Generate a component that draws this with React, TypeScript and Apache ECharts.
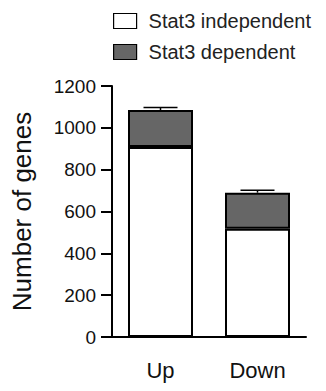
import React, { useEffect, useRef } from "react";
import * as echarts from "echarts";

const categories = ["Up", "Down"];
const independentValues = [908, 518];
const dependentValues = [177, 172];
const errorValues = [12, 11];
const yTicks = { min: 0, max: 1200, interval: 200 };
const seriesNames = ["Stat3 independent", "Stat3 dependent"];
const yAxisTitle = "Number of genes";

const FONT = "'Liberation Sans', Arial, Helvetica, sans-serif";

export default function App() {
  const ref = useRef<HTMLDivElement>(null);
  useEffect(() => {
    if (!ref.current) return;
    const chart = echarts.init(ref.current, null, { renderer: "svg" });
    const totals = independentValues.map((v, i) => v + dependentValues[i]);
    const errData = categories.map((c, i) => [i, totals[i], errorValues[i]]);
    chart.setOption({
      animation: false,
      backgroundColor: "#ffffff",
      textStyle: { fontFamily: FONT },
      grid: { left: 112, top: 86, right: 20, bottom: 54, containLabel: false },
      legend: {
        data: seriesNames,
        orient: "vertical",
        left: 113,
        top: 11,
        padding: 0,
        icon: "rect",
        itemWidth: 23,
        itemHeight: 15,
        itemGap: 11,
        itemStyle: { borderWidth: 1.2, borderColor: "#000" },
        textStyle: { fontSize: 20, color: "#222", fontFamily: FONT, padding: [0, 0, 0, 7] },
        selectedMode: false,
      },
      xAxis: {
        type: "category",
        data: categories,
        axisLine: { lineStyle: { color: "#000", width: 2 } },
        axisTick: { alignWithLabel: true, length: 10, lineStyle: { color: "#000", width: 2 } },
        axisLabel: { fontSize: 22, color: "#111", margin: 22, fontFamily: FONT },
      },
      yAxis: {
        type: "value",
        min: yTicks.min,
        max: yTicks.max,
        interval: yTicks.interval,
        name: yAxisTitle,
        nameLocation: "middle",
        nameRotate: 90,
        nameGap: 77,
        nameTextStyle: { fontSize: 26, color: "#111", fontFamily: FONT },
        axisLine: { show: true, lineStyle: { color: "#000", width: 2 } },
        axisTick: { show: true, length: 11, lineStyle: { color: "#000", width: 2 } },
        axisLabel: {
          fontSize: 19,
          color: "#111",
          margin: 16,
          fontFamily: FONT,
          formatter: (v: number) => String(v),
        },
        splitLine: { show: false },
      },
      series: [
        {
          name: seriesNames[0],
          type: "bar",
          stack: "total",
          barWidth: 65,
          data: independentValues,
          itemStyle: { color: "#ffffff", borderColor: "#000", borderWidth: 2 },
        },
        {
          name: seriesNames[1],
          type: "bar",
          stack: "total",
          barWidth: 65,
          data: dependentValues,
          itemStyle: { color: "#666666", borderColor: "#000", borderWidth: 2 },
        },
        {
          type: "custom",
          name: "err",
          data: errData,
          encode: { x: 0, y: 1 },
          z: 10,
          renderItem: (params: any, api: any) => {
            const i = api.value(0);
            const base = api.coord([i, api.value(1)]);
            const top = api.coord([i, api.value(1) + api.value(2)]);
            const half = 17;
            return {
              type: "group",
              children: [
                {
                  type: "line",
                  shape: { x1: base[0], y1: base[1], x2: top[0], y2: top[1] },
                  style: { stroke: "#000", lineWidth: 1.5 },
                },
                {
                  type: "line",
                  shape: { x1: top[0] - half, y1: top[1], x2: top[0] + half, y2: top[1] },
                  style: { stroke: "#000", lineWidth: 1.5 },
                },
              ],
            };
          },
        },
      ],
    });
    return () => chart.dispose();
  }, []);
  return (
    <div
      ref={ref}
      style={{ position: "fixed", left: 0, top: 0, width: 326, height: 391, background: "#fff" }}
    />
  );
}
